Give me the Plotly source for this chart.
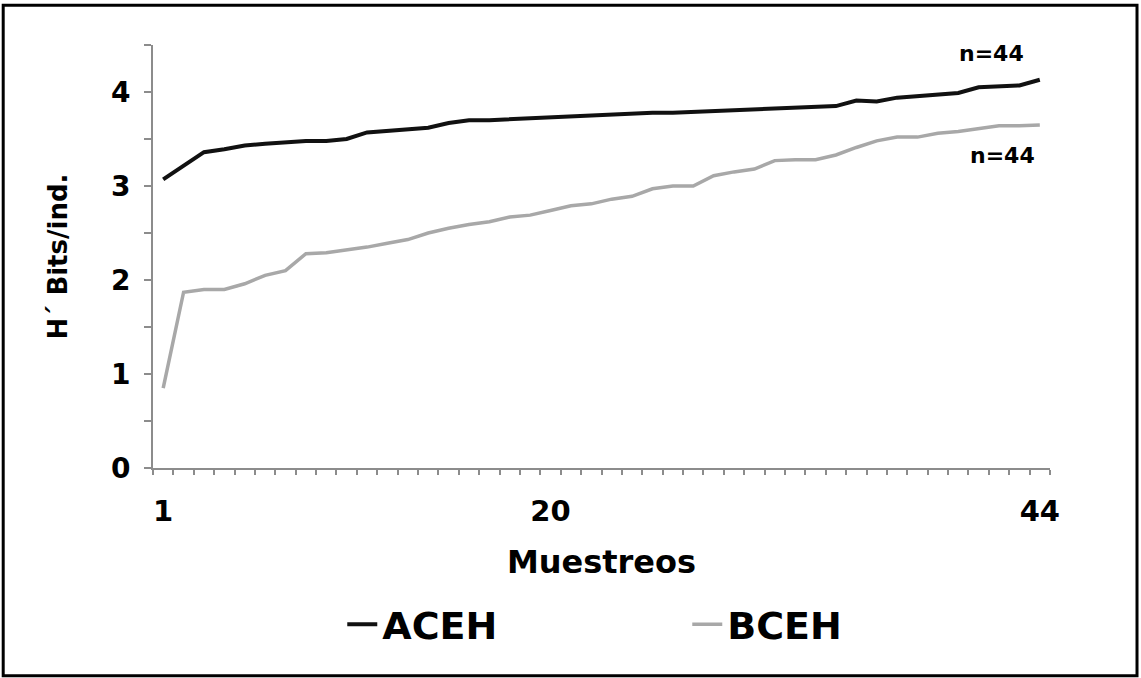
import plotly.graph_objects as go

# muestreos 1..44
muestreos = list(range(1, 45))

aceh = [3.07, 3.22, 3.36, 3.39, 3.43, 3.45, 3.47, 3.48, 3.48, 3.50,
        3.57, 3.59, 3.60, 3.62, 3.67, 3.70, 3.70, 3.71, 3.72, 3.74,
        3.75, 3.75, 3.76, 3.77, 3.78, 3.78, 3.79, 3.80, 3.81, 3.81,
        3.82, 3.83, 3.84, 3.85, 3.91, 3.90, 3.94, 3.96, 3.97, 3.99,
        4.05, 4.06, 4.07, 4.13]

bceh = [0.85, 1.87, 1.90, 1.90, 1.96, 2.05, 2.10, 2.28, 2.29, 2.32,
        2.35, 2.39, 2.43, 2.50, 2.55, 2.59, 2.62, 2.67, 2.69, 2.74,
        2.79, 2.81, 2.86, 2.89, 2.97, 3.00, 3.00, 3.11, 3.15, 3.18,
        3.27, 3.28, 3.28, 3.33, 3.41, 3.48, 3.52, 3.52, 3.56, 3.58,
        3.61, 3.64, 3.64, 3.65]

x_ticks = [1, 20, 44]
y_ticks = [0, 1, 2, 3, 4]

FONT = "DejaVu Sans"
AXIS_GREY = "#8c8c8c"

fig = go.Figure()
fig.add_trace(go.Scatter(x=muestreos, y=aceh, mode="lines", name="ACEH",
                         line=dict(color="#111111", width=4)))
fig.add_trace(go.Scatter(x=muestreos, y=bceh, mode="lines", name="BCEH",
                         line=dict(color="#a8a8a8", width=3.5)))

# n labels at the end of each curve
fig.add_annotation(x=muestreos[-1], y=aceh[-1], text="n=44", showarrow=False,
                   xanchor="right", yanchor="bottom", xshift=-14, yshift=12,
                   font=dict(family=FONT, size=22, color="black", weight="bold"))
fig.add_annotation(x=muestreos[-1], y=bceh[-1], text="n=44", showarrow=False,
                   xanchor="right", yanchor="top", xshift=-3, yshift=-16,
                   font=dict(family=FONT, size=22, color="black", weight="bold"))

# outer frame round the whole picture
fig.add_shape(type="rect", xref="paper", yref="paper",
              x0=-0.167, x1=1.097, y0=-0.491, y1=1.094,
              line=dict(color="black", width=3))

fig.update_layout(
    width=1141, height=678,
    margin=dict(l=153, r=91, t=45, b=210),
    paper_bgcolor="white", plot_bgcolor="white",
    font=dict(family=FONT, color="black"),
    showlegend=True,
    legend=dict(orientation="h", x=0.211, xanchor="left", y=-0.37, yanchor="middle",
                entrywidth=300, font=dict(family=FONT, size=38, weight="bold"),
                bgcolor="rgba(0,0,0,0)"),
    xaxis=dict(
        range=[0.5, 44.5], tickvals=x_ticks, ticktext=[str(v) for v in x_ticks],
        showgrid=False, zeroline=False, showline=True, linecolor=AXIS_GREY, linewidth=2,
        ticks="", ticklabelstandoff=16,
        tickfont=dict(family=FONT, size=29, weight="bold"),
        minor=dict(dtick=1, tick0=0.5, ticks="outside", ticklen=5, tickcolor=AXIS_GREY,
                   tickwidth=1.5, showgrid=False),
        title=dict(text="Muestreos", standoff=24,
                   font=dict(family=FONT, size=32, weight="bold")),
    ),
    yaxis=dict(
        range=[0, 4.5], tickvals=y_ticks,
        showgrid=False, zeroline=False, showline=True, linecolor=AXIS_GREY, linewidth=2,
        ticks="outside", ticklen=7, tickcolor=AXIS_GREY, tickwidth=1.5, ticklabelstandoff=8,
        tickfont=dict(family=FONT, size=28, weight="bold"),
        minor=dict(dtick=0.5, ticks="outside", ticklen=7, tickcolor=AXIS_GREY,
                   tickwidth=1.5, showgrid=False),
        title=dict(text="H´ Bits/ind.", standoff=36,
                   font=dict(family=FONT, size=26, weight="bold")),
    ),
)

fig.write_html("out.html", config={"displayModeBar": False},
               post_script="document.body.style.margin = '0';")
